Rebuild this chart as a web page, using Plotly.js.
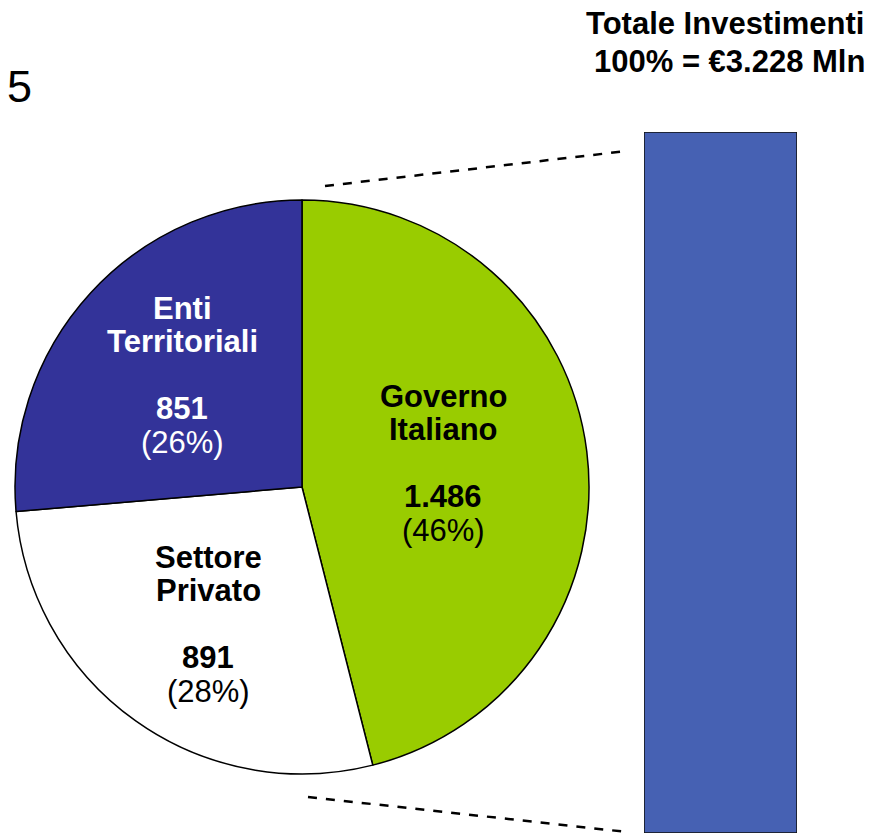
<!DOCTYPE html>
<html>
<head>
<meta charset="utf-8">
<script src="https://cdn.plot.ly/plotly-3.0.1.min.js"></script>
<style>
  html, body { margin: 0; padding: 0; background: #ffffff; }
  #chart { width: 876px; height: 835px; }
</style>
</head>
<body>
<div id="chart"></div>
<script>
// investimenti per fonte (Mln di euro)
var sources = ['Governo Italiano', 'Settore Privato', 'Enti Territoriali'];
var amounts = [1486, 891, 851];
var amountLabels = ['1.486', '891', '851'];
var percents = ['46%', '28%', '26%'];
var sliceColors = ['#99cc00', '#ffffff', '#333399'];
var labelColors = ['#000000', '#000000', '#ffffff'];

var titleLines = ['Totale Investimenti', '100% = \u20ac3.228 Mln'];
var total = amounts.reduce(function (a, b) { return a + b; }, 0);

var W = 876, H = 835;
function px(x) { return x / W; }
function py(y) { return 1 - y / H; }

var FONT = 'Liberation Sans, Arial, sans-serif';

// where each slice's text block starts (px)
var labelPos = [[443, 396], [208, 557], [182, 308]];
var lineStep = 33.5;

var pie = {
  type: 'pie',
  labels: sources,
  values: amounts,
  sort: false,
  direction: 'clockwise',
  rotation: 0,
  textinfo: 'none',
  hoverinfo: 'none',
  showlegend: false,
  marker: { colors: sliceColors, line: { color: '#000000', width: 1.5 } },
  domain: { x: [px(15), px(589)], y: [py(777), py(197)] }
};

var bar = {
  type: 'bar',
  x: ['Totale'],
  y: [total],
  width: [1],
  xaxis: 'x2',
  yaxis: 'y2',
  hoverinfo: 'none',
  showlegend: false,
  marker: { color: '#4661b3', line: { color: '#111111', width: 1.5 } }
};

var annotations = [];
for (var i = 0; i < sources.length; i++) {
  var words = sources[i].split(' ');
  var lines = [
    { t: '<b>' + words[0] + '</b>', k: 0 },
    { t: '<b>' + words[1] + '</b>', k: 1 },
    { t: '<b>' + amountLabels[i] + '</b>', k: 3 },
    { t: '(' + percents[i] + ')', k: 4 }
  ];
  lines.forEach(function (ln) {
    annotations.push({
      text: ln.t,
      xref: 'paper', yref: 'paper',
      x: px(labelPos[i][0]), y: py(labelPos[i][1] + ln.k * lineStep),
      xanchor: 'center', yanchor: 'middle',
      showarrow: false,
      font: { family: FONT, size: 31, color: labelColors[i] }
    });
  });
}

titleLines.forEach(function (t, k) {
  annotations.push({
    text: '<b>' + t + '</b>',
    xref: 'paper', yref: 'paper',
    x: px(867), y: py(24 + k * 37),
    xanchor: 'right', yanchor: 'middle',
    showarrow: false,
    font: { family: FONT, size: 31, color: '#000000' }
  });
});

annotations.push({
  text: '5',
  xref: 'paper', yref: 'paper',
  x: px(5), y: py(86),
  xanchor: 'left', yanchor: 'middle',
  showarrow: false,
  font: { family: FONT, size: 45, color: '#000000' }
});

var layout = {
  width: W,
  height: H,
  margin: { l: 0, r: 0, t: 0, b: 0 },
  paper_bgcolor: '#ffffff',
  plot_bgcolor: 'rgba(0,0,0,0)',
  xaxis2: { domain: [px(644), px(797)], anchor: 'y2', visible: false, range: [-0.5, 0.5], fixedrange: true },
  yaxis2: { domain: [py(833), py(132)], anchor: 'x2', visible: false, range: [0, total], fixedrange: true },
  shapes: [
    { type: 'line', xref: 'paper', yref: 'paper', x0: px(325), y0: py(186), x1: px(627), y1: py(151),
      line: { color: '#000000', width: 2.5, dash: 'dash' } },
    { type: 'line', xref: 'paper', yref: 'paper', x0: px(308), y0: py(797), x1: px(627), y1: py(832),
      line: { color: '#000000', width: 2.5, dash: 'dash' } }
  ],
  annotations: annotations
};

Plotly.newPlot('chart', [pie, bar], layout, { displayModeBar: false, staticPlot: true });
</script>
</body>
</html>
